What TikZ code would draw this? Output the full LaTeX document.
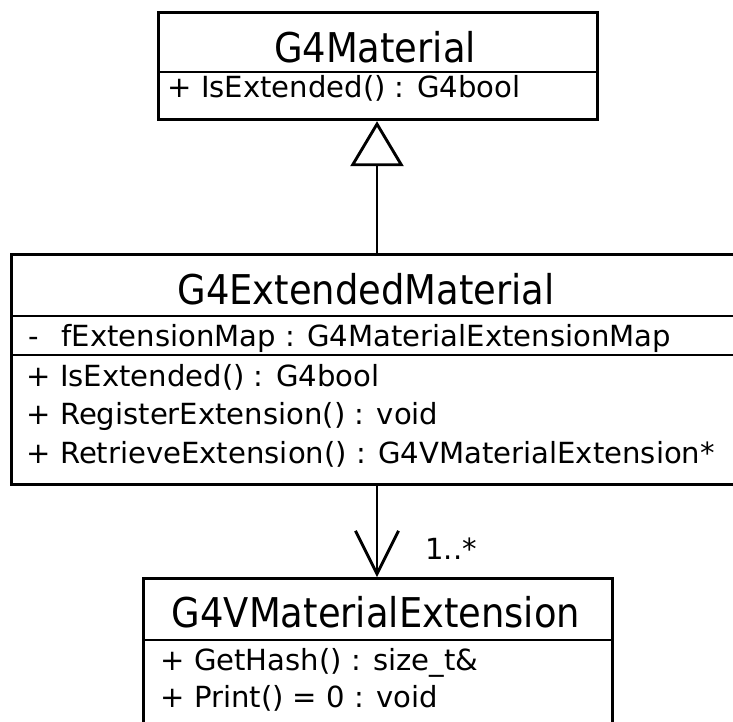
\documentclass[tikz,border=0pt]{standalone}
\usepackage{fontspec}
\setmainfont{DejaVu Sans}
\newfontfamily\condfont{DejaVu Sans Condensed}
\usetikzlibrary{arrows.meta}
\begin{document}
\begin{tikzpicture}[x=1pt,y=-1pt,line width=2.9pt,
  box/.style={draw,line width=3.2pt,inner sep=0pt,anchor=north west},
  ttl/.style={font=\condfont\fontsize{41}{48}\selectfont,inner sep=0pt,anchor=base},
  row/.style={font=\fontsize{29.1}{34}\selectfont,inner sep=0pt,anchor=base west},
  sep/.style={line width=2.6pt}]
\useasboundingbox (0,0) rectangle (733,721);
% G4Material
\node[box,minimum width=439pt,minimum height=107pt] (mat) at (157,11) {};
\coordinate (m1) at (0,72);
\draw[sep] (mat.west |- m1) -- (mat.east |- m1);
\node[ttl] (matT) at (375,62) {G4Material};
\node[row] (matR1) at (166,97) {+ IsExtended() : G4bool};
% G4ExtendedMaterial
\node[box,minimum width=730pt,minimum height=230pt] (ext) at (10,253) {};
\coordinate (e1) at (0,316);
\coordinate (e2) at (0,355);
\draw[sep] (ext.west |- e1) -- (ext.east |- e1);
\draw[sep] (ext.west |- e2) -- (ext.east |- e2);
\node[ttl] (extT) at (366,304) {G4ExtendedMaterial};
\node[row] (extA0) at (27,346) {-};
\node[row] (extA1) at (60,346) {fExtensionMap : G4MaterialExtensionMap};
\node[row] (extR1) at (25,386) {+ IsExtended() : G4bool};
\node[row] (extR2) at (25,424.5) {+ RegisterExtension() : void};
\node[row] (extR3) at (25,463) {+ RetrieveExtension() : G4VMaterialExtension*};
% G4VMaterialExtension
\node[box,minimum width=469pt,minimum height=160pt] (ve) at (142,577) {};
\coordinate (v1) at (0,640);
\draw[sep] (ve.west |- v1) -- (ve.east |- v1);
\node[ttl] (veT) at (376,627) {G4VMaterialExtension};
\node[row] (veR1) at (159,670) {+ GetHash() : size\_t\&};
\node[row] (veR2) at (159,707) {+ Print() = 0 : void};
% connectors
\coordinate (ax) at (377,0);
\draw[-{Triangle[open,length=45pt,width=53pt]}] (ext.north -| ax) -- (mat.south -| ax);
\draw[-{Straight Barb[length=43pt,width=43pt]}] (ext.south -| ax) -- (ve.north -| ax);
\node[row] (mult) at (424,559) {1..*};
\end{tikzpicture}
\end{document}
